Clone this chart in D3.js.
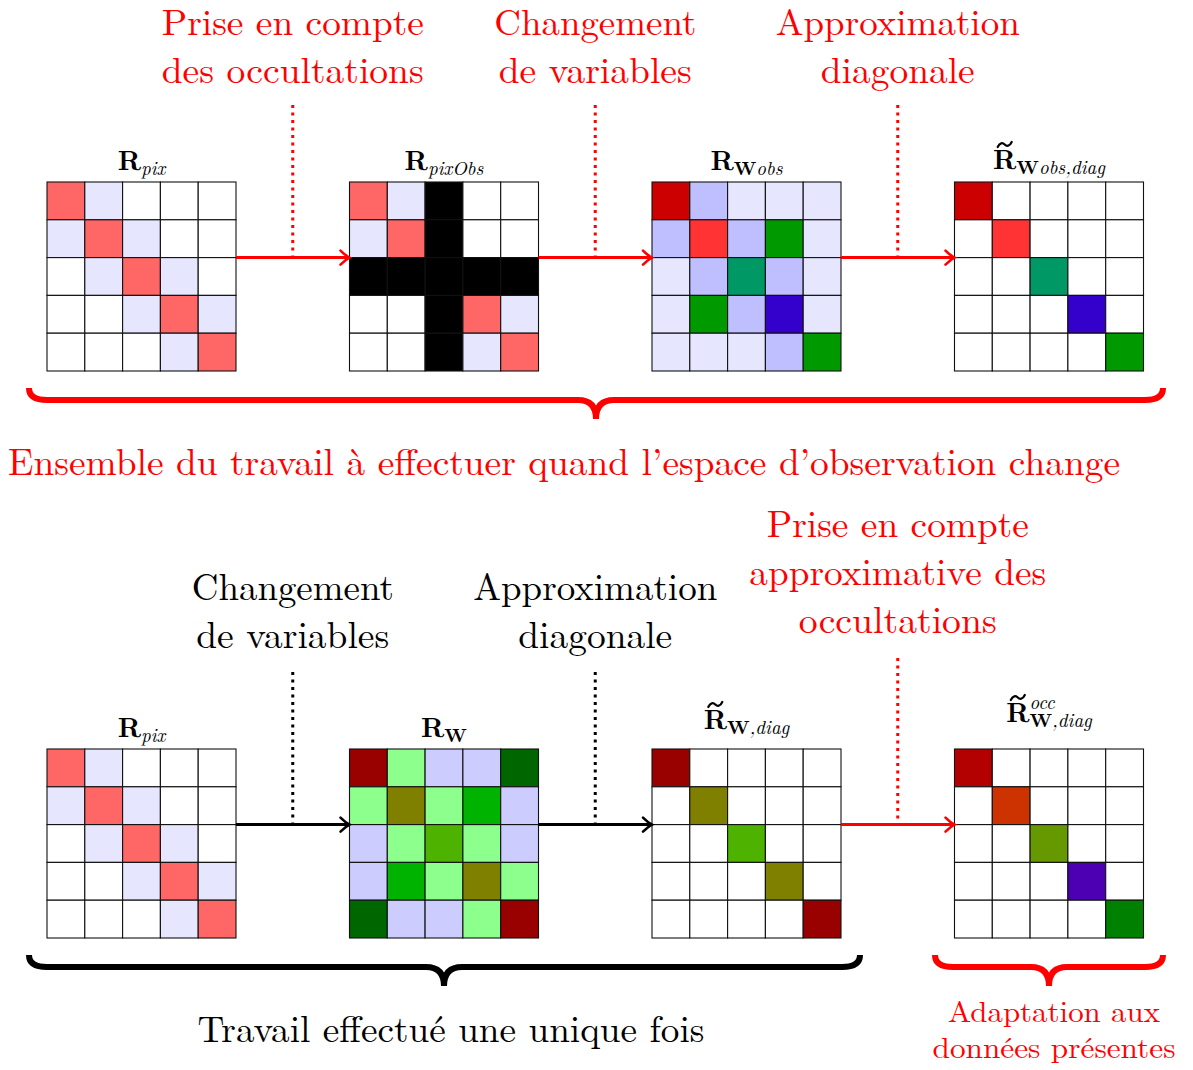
<!DOCTYPE html>
<html><head><meta charset="utf-8">
<script src="https://cdn.jsdelivr.net/npm/d3@7"></script>
<style>body{margin:0;background:#fff}svg{display:block}</style>
</head><body>
<svg id="c" width="1193" height="1070"></svg>
<script>
// ---- data ----
const palette = {
  w:"#ffffff", r:"#ff6666", b:"#e6e6ff", k:"#000000",
  D:"#cc0000", B:"#bfbfff", E:"#ff3333", G:"#009900", T:"#009966", U:"#3300cc",
  M:"#990000", L:"#8cff8c", C:"#ccccff", N:"#006600", O:"#808000", H:"#00b300", S:"#4db300",
  P:"#b30000", Q:"#cc3300", V:"#669900", X:"#4d00b3", Y:"#008000"
};
const topMatrices = [
  ["rbwww","brbww","wbrbw","wwbrb","wwwbr"],
  ["rbkww","brkww","kkkkk","wwkrb","wwkbr"],
  ["DBbbb","BEBGb","bBTBb","bGBUb","bbbBG"],
  ["Dwwww","wEwww","wwTww","wwwUw","wwwwG"]
];
const bottomMatrices = [
  ["rbwww","brbww","wbrbw","wwbrb","wwwbr"],
  ["MLCCN","LOLHC","CLSLC","CHLOL","NCCLM"],
  ["Mwwww","wOwww","wwSww","wwwOw","wwwwM"],
  ["Pwwww","wQwww","wwVww","wwwXw","wwwwY"]
];
const topTitles = [
  {tilde:false, sub:[["pix","i"]], sup:null},
  {tilde:false, sub:[["pixObs","i"]], sup:null},
  {tilde:false, sub:[["W","b"],["obs","i"]], sup:null},
  {tilde:true,  sub:[["W","b"],["obs,diag","i"]], sup:null}
];
const bottomTitles = [
  {tilde:false, sub:[["pix","i"]], sup:null},
  {tilde:false, sub:[["W","b"]], sup:null},
  {tilde:true,  sub:[["W","b"],[",diag","i"]], sup:null},
  {tilde:true,  sub:[["W","b"],[",diag","i"]], sup:"occ"}
];
const topArrowColors = ["red","red","red"];
const bottomArrowColors = ["black","black","red"];
const topLabels = [
  ["Prise en compte","des occultations"],
  ["Changement","de variables"],
  ["Approximation","diagonale"]
];
const topLabelWidths = [[262,262],[202,193],[244,154]];
const bottomLabels = [
  ["Changement","de variables"],
  ["Approximation","diagonale"],
  ["Prise en compte","approximative des","occultations"]
];
const bottomLabelWidths = [[202,193],[244,154],[262,297,198]];
const bottomLabelColors = ["black","black","red"];
const topBraceText = "Ensemble du travail à effectuer quand l\u2019espace d\u2019observation change";
const bottomBraceTexts = [["Travail effectué une unique fois"],["Adaptation aux","données présentes"]];

// ---- layout ----
const FONT = '"Latin Modern Roman","CMU Serif","Liberation Serif",serif';
const svg = d3.select("#c");
const size = 189;
const mx = d3.scaleLinear().domain([0,3]).range([47,954.5]);
const cell = d3.scaleBand().domain(d3.range(5)).range([0,size]);
const rowY = {top:182, bottom:749};

function drawMatrix(m, i, y0){
  const g = svg.append("g").attr("transform",`translate(${mx(i)},${y0})`);
  const cells = [];
  m.forEach((row,r)=>row.split("").forEach((c,k)=>cells.push({r,k,c})));
  g.selectAll("rect").data(cells).join("rect")
    .attr("x",d=>cell(d.k)).attr("y",d=>cell(d.r))
    .attr("width",cell.bandwidth()).attr("height",cell.bandwidth())
    .attr("fill",d=>palette[d.c]).attr("stroke","#111").attr("stroke-width",1.1);
}
topMatrices.forEach((m,i)=>drawMatrix(m,i,rowY.top));
bottomMatrices.forEach((m,i)=>drawMatrix(m,i,rowY.bottom));

function drawTitle(t,i,baseline){
  const cx = mx(i)+size/2;
  const text = svg.append("text").attr("x",cx).attr("y",baseline)
    .attr("text-anchor","middle").style("font-family",FONT);
  const rt = text.append("tspan").attr("font-weight","bold").attr("font-size",27).text("R");
  let first = true, occW = 0;
  if(t.sup){
    const sp = text.append("tspan").attr("font-style","italic").attr("font-size",19)
      .attr("dy",-13).text(t.sup);
    occW = sp.node().getComputedTextLength();
  }
  t.sub.forEach(([s,st])=>{
    const ts = text.append("tspan").attr("font-size",19);
    if(first){ ts.attr("dy", t.sup ? 18 : 5); if(t.sup) ts.attr("dx",-occW); first=false; }
    if(st==="b") ts.attr("font-weight","bold"); else ts.attr("font-style","italic");
    ts.text(s);
  });
  if(t.tilde){
    const bb = text.node().getBBox();
    const rw = rt.node().getComputedTextLength();
    const tx = bb.x + rw/2, ty = baseline - 24.5;
    svg.append("path")
      .attr("d",`M${tx-7},${ty+2.5} C${tx-5},${ty-2} ${tx-2},${ty-2} ${tx},${ty} S${tx+5},${ty+2} ${tx+7},${ty-2.5}`)
      .attr("fill","none").attr("stroke","black").attr("stroke-width",2.2).attr("stroke-linecap","round");
  }
}
const topTitleBase = [170,170,170,169];
const bottomTitleBase = [737,737,729,722];
topTitles.forEach((t,i)=>drawTitle(t,i,topTitleBase[i]));
bottomTitles.forEach((t,i)=>drawTitle(t,i,bottomTitleBase[i]));

function arrow(x1,x2,y,color){
  svg.append("line").attr("x1",x1).attr("x2",x2-2).attr("y1",y).attr("y2",y)
    .attr("stroke",color).attr("stroke-width",3);
  svg.append("path").attr("d",`M${x2-9},${y-7} Q${x2-4},${y-2} ${x2},${y} Q${x2-4},${y+2} ${x2-9},${y+7}`)
    .attr("fill","none").attr("stroke",color).attr("stroke-width",2.6).attr("stroke-linecap","round");
}
function dotted(x,y1,y2,color){
  svg.append("line").attr("x1",x).attr("x2",x).attr("y1",y1).attr("y2",y2)
    .attr("stroke",color).attr("stroke-width",3).attr("stroke-dasharray","3,4.5");
}
const yArrTop = rowY.top + cell(2);
const yArrBot = rowY.bottom + cell(2);
topArrowColors.forEach((c,i)=>{
  arrow(mx(i)+size, mx(i+1), yArrTop, c);
  dotted((mx(i)+size+mx(i+1))/2, 105, yArrTop-2, c);
});
const botDotStart = [672,672,658];
bottomArrowColors.forEach((c,i)=>{
  arrow(mx(i)+size, mx(i+1), yArrBot, c);
  dotted((mx(i)+size+mx(i+1))/2, botDotStart[i], yArrBot-2, c);
});

function label(str,cx,y,w,color,fs){
  svg.append("text").attr("x",cx).attr("y",y).attr("text-anchor","middle")
    .style("font-family",FONT).attr("font-size",fs).attr("fill",color)
    .attr("textLength",w).attr("lengthAdjust","spacingAndGlyphs").text(str);
}
topLabels.forEach((lines,i)=>{
  const cx = (mx(i)+size+mx(i+1))/2;
  lines.forEach((s,j)=>label(s,cx,35+j*48,topLabelWidths[i][j],"red",37));
});
const bottomLabelStart = [600,600,537];
bottomLabels.forEach((lines,i)=>{
  const cx = (mx(i)+size+mx(i+1))/2;
  lines.forEach((s,j)=>label(s,cx,bottomLabelStart[i]+j*48,bottomLabelWidths[i][j],bottomLabelColors[i],38));
});

function brace(x1,x2,xm,y0,color){
  const y1=y0+12, y2=y0+31, r=18;
  svg.append("path")
    .attr("d",`M${x1},${y0} Q${x1},${y1} ${x1+r},${y1} L${xm-r},${y1} Q${xm},${y1} ${xm},${y2} Q${xm},${y1} ${xm+r},${y1} L${x2-r},${y1} Q${x2},${y1} ${x2},${y0}`)
    .attr("fill","none").attr("stroke",color).attr("stroke-width",6).attr("stroke-linejoin","miter");
}
brace(29,1163,596,388,"red");
label(topBraceText,564,475,1112,"red",38);
brace(29,860,444,955,"black");
brace(935,1163,1049,955,"red");
label(bottomBraceTexts[0][0],451,1042,507,"black",38);
label(bottomBraceTexts[1][0],1054,1022,212,"red",29);
label(bottomBraceTexts[1][1],1054,1058,243,"red",29);
</script>
</body></html>
